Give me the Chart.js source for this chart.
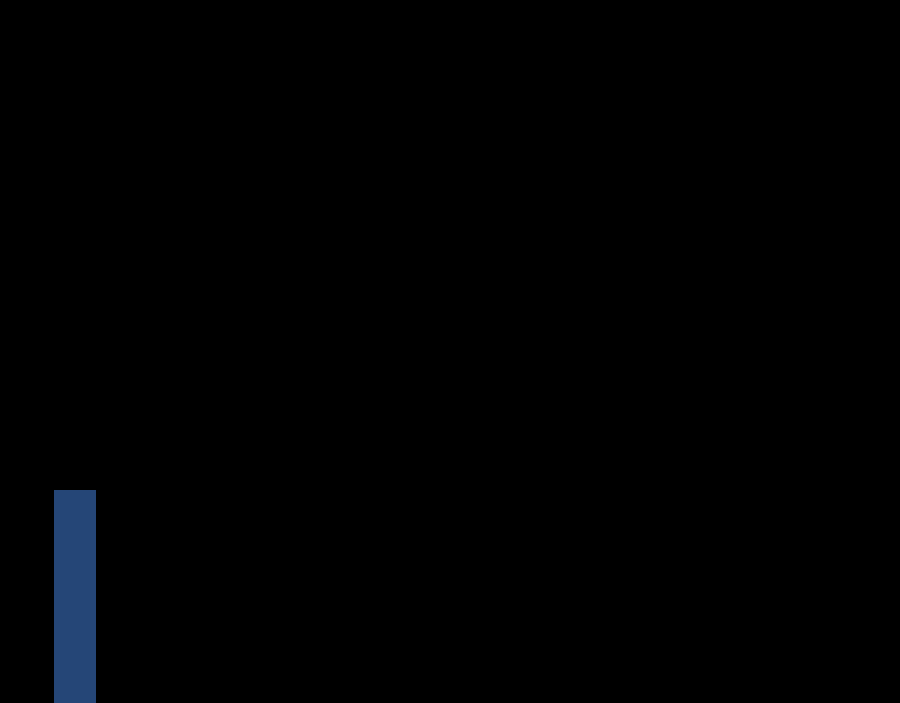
<!DOCTYPE html>
<html>
<head>
<meta charset="utf-8">
<script src="https://cdn.jsdelivr.net/npm/chart.js@4"></script>
<style>
	html, body { margin: 0; padding: 0; background: #000; overflow: hidden; }
	canvas { display: block; }
</style>
</head>
<body>
<canvas id="chart" width="900" height="703"></canvas>
<script>
const categories = ["1", "2", "3", "4", "5", "6"];
const values = [30.3, null, null, null, null, null];
const yMin = 0;
const yMax = 100;

window.onload = () => {
	const ctx = document.getElementById("chart").getContext("2d");

	new Chart(ctx, {
		type: "bar",
		data: {
			labels: categories,
			datasets: [
				{
					data: values,
					backgroundColor: "#254677",
					borderWidth: 0,
					categoryPercentage: 1,
					barPercentage: 0.28,
				},
			],
		},
		options: {
			responsive: false,
			animation: false,
			layout: { padding: 0 },
			plugins: {
				legend: { display: false },
				tooltip: { enabled: false },
			},
			scales: {
				x: { display: false },
				y: { display: false, min: yMin, max: yMax },
			},
		},
	});
};
</script>
</body>
</html>
